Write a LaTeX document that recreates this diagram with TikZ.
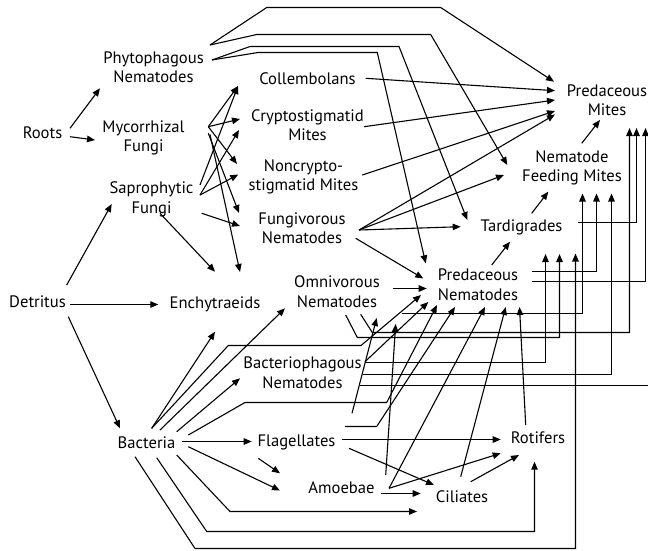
\documentclass[tikz,border=0pt]{standalone}
\usepackage{fontspec}
\setmainfont{PT Sans}
\usetikzlibrary{arrows.meta,calc}
\begin{document}
\begin{tikzpicture}[x=1pt,y=-1pt,
  lbl/.style={font=\fontsize{16.6}{19.5}\selectfont, inner sep=0pt, align=center},
  one/.style={lbl, anchor=base},
  two/.style={lbl, anchor=north},
  arr/.style={line width=1.1pt, -{Triangle[length=8pt,width=6.5pt]}},
  ln/.style={line width=1.1pt}]
\useasboundingbox (0,0) rectangle (648,550);
% nodes
\node[one] (roots) at (42.5,138) {Roots};
\node[two] (phyto) at (153.5,51.5) {Phytophagous\\Nematodes};
\node[two] (myco) at (143.5,120.5) {Mycorrhizal\\Fungi};
\node[two] (sapro) at (151.5,181.5) {Saprophytic\\Fungi};
\node[one] (detritus) at (37.5,307.5) {Detritus};
\node[one] (collem) at (307.5,84) {Collembolans};
\node[two] (crypto) at (307.5,109) {Cryptostigmatid\\Mites};
\node[two] (noncrypto) at (303.5,159) {Noncrypto-\\stigmatid Mites};
\node[two] (fungi) at (302,212.5) {Fungivorous\\Nematodes};
\node[one] (enchy) at (215,308.5) {Enchytraeids};
\node[two] (omni) at (337,275.5) {Omnivorous\\Nematodes};
\node[two] (bacph) at (302.5,357) {Bacteriophagous\\Nematodes};
\node[one] (bact) at (146.5,448.5) {Bacteria};
\node[one] (flag) at (296.5,446.5) {Flagellates};
\node[one] (amoeb) at (341.5,493) {Amoebae};
\node[one] (cili) at (462,502.5) {Ciliates};
\node[one] (roti) at (538,443) {Rotifers};
\node[two] (prednem) at (478,269) {Predaceous\\Nematodes};
\node[one] (tardi) at (521.5,231.5) {Tardigrades};
\node[two] (nfm) at (572,150) {Nematode\\Feeding Mites};
\node[two] (pm) at (607,84.5) {Predaceous\\Mites};
\coordinate (edge) at (650,385.5);
% roots
\draw[arr] ($(roots.base)+(27.5,-9.7)$) -- ($(phyto.north)+(-53.5,36.8)$);
\draw[arr] ($(roots.base)+(27.5,-1.3)$) -- ($(myco.north)+(-48.5,19.5)$);
% phytophagous nematodes
\draw[arr] ($(phyto.north)+(56.5,-6.5)$) -- (266.7,7.5) -- (440.7,7.5) -- ($(pm.north)+(-53,-2.8)$);
\draw[arr] ($(phyto.north)+(56.5,-6.5)$) -- (256.7,34.5) -- (430.7,34.5) -- ($(nfm.north)+(-64.7,15)$);
\draw[arr] ($(phyto.north)+(58.5,8.5)$) -- (250,46.5) -- (399,46.5) -- ($(tardi.base)+(-54.2,-11.5)$);
\draw[arr] ($(phyto.north)+(58.5,8.5)$) -- (258,52.5) -- (377.3,52.5) -- ($(prednem.north)+(-52.3,-5.7)$);
% mycorrhizal fungi
\draw[arr] ($(myco.north)+(64.8,6.2)$) -- ($(collem.base)+(-69.5,2)$);
\draw[arr] ($(myco.north)+(64.8,6.2)$) -- ($(crypto.north)+(-67.5,10)$);
\draw[arr] ($(myco.north)+(64.8,6.2)$) -- ($(noncrypto.north)+(-66.5,5)$);
\draw[arr] ($(myco.north)+(64.8,12.8)$) -- ($(fungi.north)+(-63,0.5)$);
\draw[arr] ($(myco.north)+(66.5,14)$) -- ($(enchy.base)+(25,-36.5)$);
% saprophytic fungi
\draw[arr] ($(sapro.north)+(48.5,3.5)$) -- ($(collem.base)+(-69.5,2)$);
\draw[arr] ($(sapro.north)+(48.5,13.5)$) -- ($(crypto.north)+(-68.5,21)$);
\draw[arr] ($(sapro.north)+(48.5,13.5)$) -- ($(noncrypto.north)+(-65.2,15.5)$);
\draw[arr] ($(sapro.north)+(50.2,31.8)$) -- ($(fungi.north)+(-62,13.5)$);
\draw[arr] ($(sapro.north)+(8.5,31.8)$) -- ($(enchy.base)+(0,-36.8)$);
% detritus
\draw[arr] ($(detritus.base)+(29.2,-22.5)$) -- ($(sapro.north)+(-39.8,22.5)$);
\draw[arr] ($(detritus.base)+(32.5,-3)$) -- ($(enchy.base)+(-56.7,-4)$);
\draw[arr] ($(detritus.base)+(30.8,9.2)$) -- ($(bact.base)+(-26.5,-20.2)$);
% bacteria
\draw[arr] ($(bact.base)+(5.2,-20.2)$) -- ($(enchy.base)+(0,23.2)$);
\draw[arr] ($(bact.base)+(13.5,-18.5)$) -- ($(omni.north)+(-52,32.8)$);
\draw[arr] ($(bact.base)+(30.2,-16.8)$) -- ($(bacph.north)+(-62.5,21.3)$);
\draw[arr] ($(bact.base)+(5.2,-20.2)$) -- (228.3,345.5) -- (361,345.5) -- ($(prednem.north)+(-57,26)$);
\draw[arr] ($(bact.base)+(41.8,-13.5)$) -- (245,402.5) -- (386.7,402.5) -- ($(prednem.north)+(-41,36)$);
\draw[arr] ($(bact.base)+(35.2,-7)$) -- ($(flag.base)+(-44.8,-5)$);
\draw[arr] ($(bact.base)+(41.8,-1.8)$) -- ($(amoeb.base)+(-61.5,-2.5)$);
\draw[arr] ($(bact.base)+(30.2,6.5)$) -- (230,511.5) -- ($(cili.base)+(-45,9)$);
\draw[arr] ($(bact.base)+(10.2,9.2)$) -- (206.7,531.5) -| ($(roti.base)+(-3.5,18.7)$);
\draw[arr] ($(bact.base)+(-11.5,8.2)$) -- (195,548.5) -| ($(tardi.base)+(54,22)$);
% flagellates
\draw[arr] ($(flag.base)+(-38.2,11.8)$) -- ($(amoeb.base)+(-61.5,-19.7)$);
\draw[arr] ($(flag.base)+(45.2,-7)$) -- ($(roti.base)+(-37.3,-3.5)$);
\draw[arr] ($(flag.base)+(52.5,1.8)$) -- ($(cili.base)+(-28,-17.5)$);
\draw[arr] ($(flag.base)+(55.5,-33.2)$) -- ($(omni.north)+(39.7,42.5)$);
\draw[arr] ($(flag.base)+(48.5,-20)$) -- (376.7,426.5) -- ($(prednem.north)+(-23,38)$);
% amoebae
\draw[arr] ($(amoeb.base)+(39.2,0.5)$) -- ($(cili.base)+(-41.3,-9)$);
\draw[arr] ($(amoeb.base)+(47.5,-4.7)$) -- ($(roti.base)+(-37.3,10.3)$);
\draw[arr] ($(amoeb.base)+(47.5,-4.7)$) -- ($(prednem.north)+(7,38)$);
\draw[arr] ($(amoeb.base)+(44.2,-18)$) -- ($(omni.north)+(58.7,48.5)$);
% ciliates, rotifers
\draw[arr] ($(cili.base)+(-1.3,-25.8)$) -- ($(prednem.north)+(27.7,38)$);
\draw[arr] ($(cili.base)+(8.7,-20.8)$) -- ($(roti.base)+(-19,12)$);
\draw[arr] ($(roti.base)+(-12.3,-18)$) -- ($(prednem.north)+(41.5,38)$);
% omnivorous nematodes
\draw[arr] ($(omni.north)+(56.3,13)$) -- ($(prednem.north)+(-51.3,19.5)$);
\draw[arr] ($(omni.north)+(8.7,39.5)$) -- (357.3,337.5) -| ($(tardi.base)+(38,22.5)$);
\draw[arr] ($(omni.north)+(23.7,38.8)$) -- (372.3,332.5) -| ($(pm.north)+(22.5,43.5)$);
\draw[arr] ($(omni.north)+(64.7,38)$) -| ($(nfm.north)+(10.5,43.5)$);
% bacteriophagous nematodes
\draw[arr] ($(bacph.north)+(62.5,4.7)$) -- ($(prednem.north)+(-49.7,33)$);
\draw[arr] ($(bacph.north)+(62.5,5.5)$) -| ($(tardi.base)+(24,22.5)$);
\draw[arr] ($(bacph.north)+(60.5,17.5)$) -| ($(nfm.north)+(39.5,43.5)$);
\draw[ln] ($(bacph.north)+(57.5,28.5)$) -- (edge);
% mites, collembolans, fungivorous nematodes
\draw[arr] ($(collem.base)+(58.2,-5.7)$) -- ($(pm.north)+(-52,6.2)$);
\draw[arr] ($(crypto.north)+(56.5,17.7)$) -- ($(pm.north)+(-52,15.5)$);
\draw[arr] ($(noncrypto.north)+(58.8,16)$) -- ($(pm.north)+(-52,26.5)$);
\draw[arr] ($(fungi.north)+(57,17.5)$) -- ($(pm.north)+(-52,30)$);
\draw[arr] ($(fungi.north)+(57,17.5)$) -- ($(nfm.north)+(-68,25)$);
\draw[arr] ($(fungi.north)+(57,17.5)$) -- ($(tardi.base)+(-60.8,-4.8)$);
\draw[arr] ($(fungi.north)+(53.7,25.8)$) -- ($(prednem.north)+(-54.7,9.5)$);
% predaceous nematodes, tardigrades, nematode feeding mites
\draw[arr] ($(prednem.north)+(13.7,-4)$) -- ($(tardi.base)+(-11.5,10.2)$);
\draw[arr] ($(prednem.north)+(53.7,2.5)$) -| ($(nfm.north)+(24.5,43.5)$);
\draw[arr] ($(prednem.north)+(53.7,12.5)$) -| ($(pm.north)+(38.5,43.5)$);
\draw[arr] ($(tardi.base)+(10.2,-18.2)$) -- ($(nfm.north)+(-23.7,41.7)$);
\draw[arr] ($(tardi.base)+(56.5,-9)$) -| ($(pm.north)+(29.5,43.5)$);
\draw[arr] ($(nfm.north)+(9.7,-6.7)$) -- ($(pm.north)+(-7,35.5)$);
\end{tikzpicture}
\end{document}
